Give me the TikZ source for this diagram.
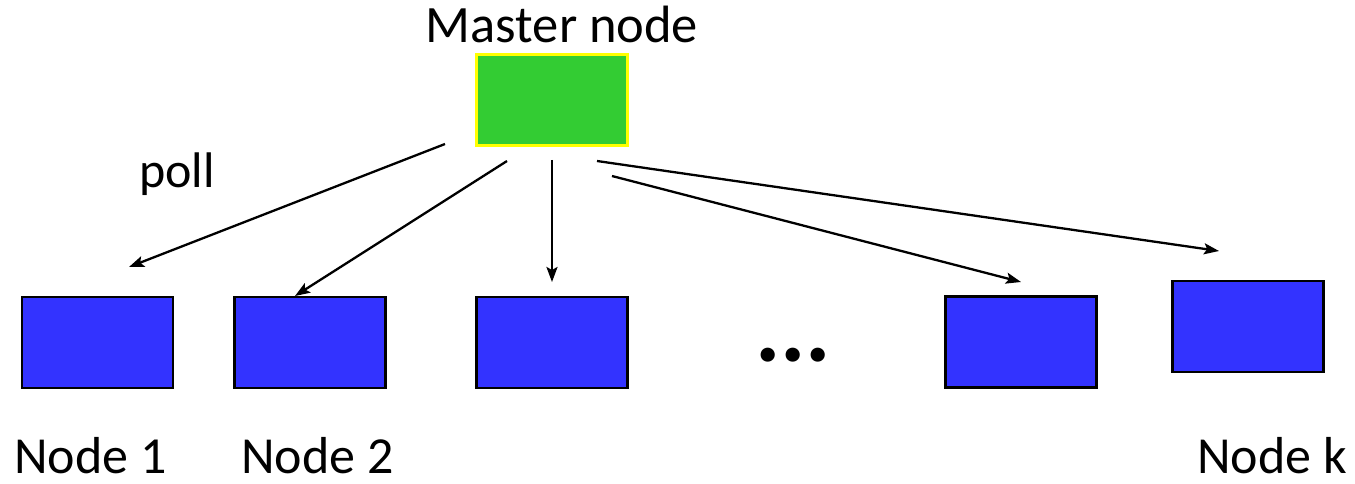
\documentclass[tikz,border=0pt]{standalone}
\usepackage{fontspec}
\setmainfont{Carlito}
\usetikzlibrary{arrows.meta}
\definecolor{mastergreen}{HTML}{33CC33}
\definecolor{slaveblue}{HTML}{3333FF}
\definecolor{rimyellow}{HTML}{FFFF00}
\begin{document}
\begin{tikzpicture}[x=1pt,y=-1pt,
  box/.style={draw=black,line width=2.6pt,fill=slaveblue,inner sep=0pt,minimum width=151pt,minimum height=91pt},
  master/.style={draw=rimyellow,line width=3pt,fill=mastergreen,inner sep=0pt,minimum width=151pt,minimum height=91pt},
  lbl/.style={inner sep=0pt,anchor=base west,font=\fontsize{52}{52}\selectfont},
  arr/.style={line width=2.3pt,-{Stealth[length=15pt,width=11pt,inset=3pt]}}]
\useasboundingbox (0,0) rectangle (1355,484);

% master and polled nodes
\node[master] (m) at (552,100) {};
\node[box] (n1) at (97.5,342.5) {};
\node[box] (n2) at (310,342.5) {};
\node[box] (n3) at (552,342.5) {};
\node[box] (n4) at (1021,342) {};
\node[box] (nk) at (1248,326.5) {};

% labels
\node[inner sep=0pt,anchor=base,font=\fontsize{52.5}{52.5}\selectfont] (mt) at (562,43) {Master node};
\node[inner sep=0pt,anchor=base west,font=\fontsize{50}{50}\selectfont] (poll) at (139,187) {poll};
\node[lbl] (l1) at (14,473) {Node 1};
\node[lbl] (l2) at (241,473) {Node 2};
\node[lbl,anchor=base east] (lk) at (1347,473) {Node k};
\node[inner sep=0pt,anchor=base west,font=\fontsize{95}{95}\bfseries\selectfont] (dots) at (755,361) {...};

% poll arrows
\coordinate (s1) at (445,144);  \coordinate (t1) at (129,267);
\coordinate (s2) at (507,161);  \coordinate (t2) at (295,296);
\coordinate (s3) at (552,160);  \coordinate (t3) at (552,282);
\coordinate (s4) at (612,176);  \coordinate (t4) at (1021,282);
\coordinate (s5) at (597,161);  \coordinate (t5) at (1219,251);
\foreach \i in {1,...,5} \draw[arr] (s\i) -- (t\i);
\end{tikzpicture}
\end{document}
